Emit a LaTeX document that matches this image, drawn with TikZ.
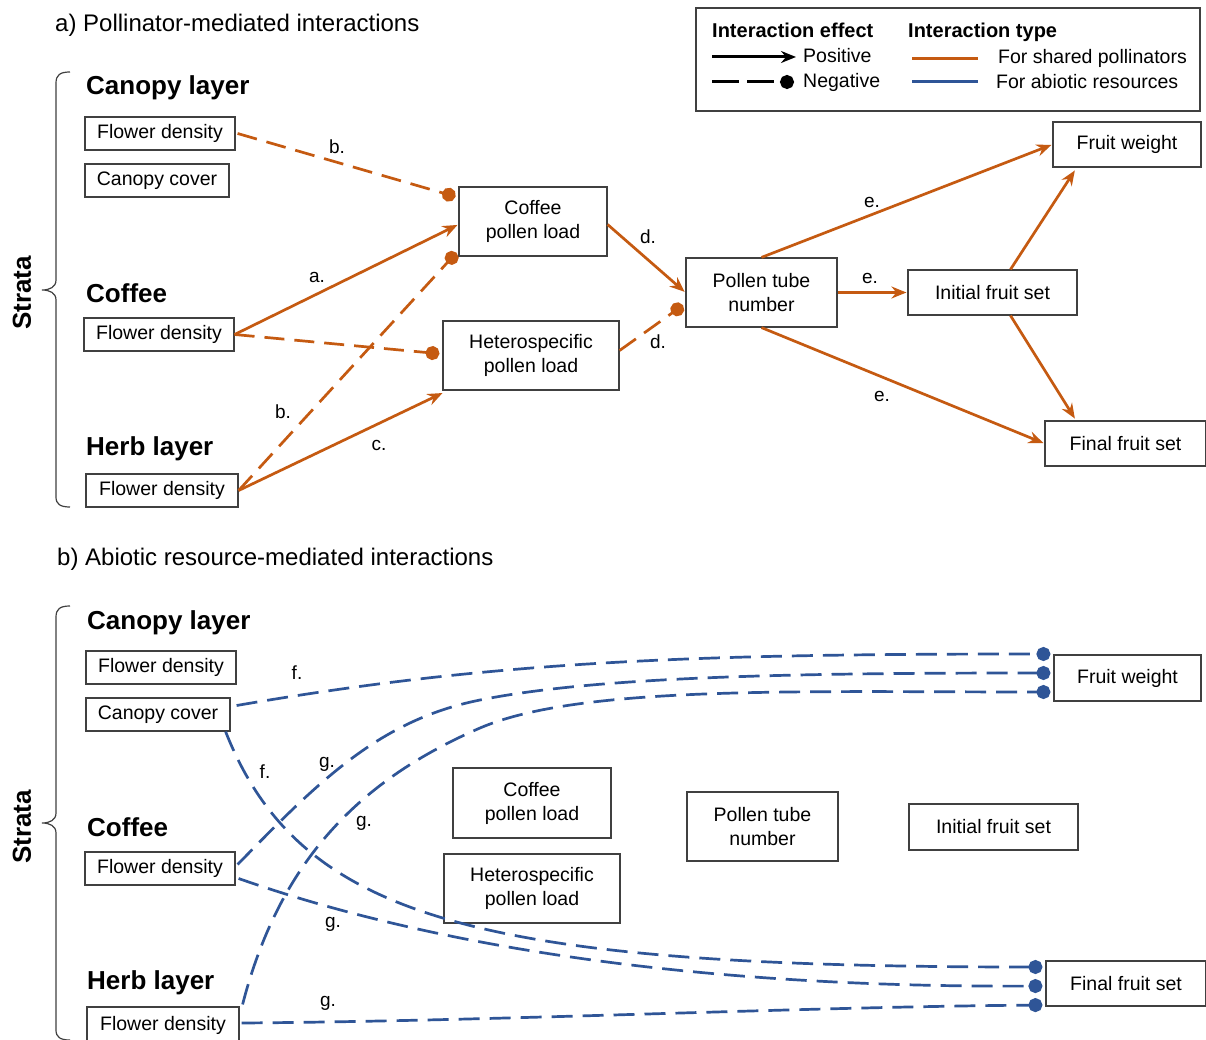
\documentclass[tikz,border=0pt]{standalone}
\usepackage{fontspec}
\setmainfont{Liberation Sans}
\usetikzlibrary{arrows.meta,calc}
\definecolor{porange}{RGB}{197,90,17}
\definecolor{pblue}{RGB}{47,85,151}
\definecolor{boxgray}{RGB}{64,64,64}
\tikzset{
  box/.style={draw=boxgray, line width=1.2pt, inner sep=0pt, align=center, fill=white,
    font=\fontsize{19.5}{24}\selectfont},
  lay/.style={anchor=base west, inner sep=0pt, font=\bfseries\fontsize{26}{30}\selectfont},
  ttl/.style={anchor=base west, inner sep=0pt, font=\fontsize{24}{28}\selectfont},
  strata/.style={inner sep=0pt, rotate=90, font=\bfseries\fontsize{26}{30}\selectfont},
  lbl/.style={inner sep=0pt, font=\fontsize{19}{22}\selectfont},
  legh/.style={anchor=base west, inner sep=0pt, font=\bfseries\fontsize{20}{24}\selectfont},
  legt/.style={anchor=base west, inner sep=0pt, font=\fontsize{19.5}{24}\selectfont},
  bracestyle/.style={draw=boxgray, line width=1.2pt},
  postip/.style={-{Stealth[length=15pt,width=12pt,inset=5pt]}},
  negtip/.style={-{Circle[length=14pt]}},
  opos/.style={draw=porange, line width=2.7pt, postip, shorten >=1pt},
  oneg/.style={draw=porange, line width=2.7pt, dash pattern=on 20pt off 10pt, negtip, shorten >=3pt},
  bneg/.style={draw=pblue, line width=2.7pt, dash pattern=on 21pt off 10pt, negtip, shorten >=3pt},
}
\begin{document}
\begin{tikzpicture}[x=1pt,y=-1pt]
\useasboundingbox[fill=white] (0,0) rectangle (1206,1040);

% ---------------- Legend ----------------
\node[draw=boxgray, line width=1.2pt, minimum width=504pt, minimum height=103pt, inner sep=0pt] (leg) at (948,59.5) {};
\node[legh] (le) at (712,38) {Interaction effect};
\node[legt] (lpos) at (803,63) {Positive};
\node[legt] (lneg) at (803,88) {Negative};
\node[legh] (lt) at (908,38) {Interaction type};
\node[legt] (lsp) at (998,64) {For shared pollinators};
\node[legt] (lar) at (996,89) {For abiotic resources};
\coordinate (p1) at (712,57); \coordinate (p2) at (796,57);
\coordinate (n1) at (712,82); \coordinate (n2) at (794,82);
\coordinate (o1) at (912,59); \coordinate (o2) at (978,59);
\coordinate (b1) at (912,82); \coordinate (b2) at (978,82);
\draw[line width=3pt, postip] (p1) -- (p2);
\draw[line width=3pt, dash pattern=on 27pt off 8pt, negtip] (n1) -- (n2);
\draw[porange, line width=3pt] (o1) -- (o2);
\draw[pblue, line width=3pt] (b1) -- (b2);

% ---------------- Panel a ----------------
\node[ttl] (ta) at (55,32) {a) Pollinator-mediated interactions};
\node[strata] (sa) at (22,293) {Strata};
\draw[bracestyle] (70,72) .. controls (60,72) and (56,75) .. (56,83) -- (56,280)
  .. controls (56,287) and (50,290) .. (42,290) .. controls (50,290) and (56,293) .. (56,300)
  -- (56,497) .. controls (56,504) and (60,507) .. (70,507);
\node[lay] (cla) at (86,95) {Canopy layer};
\node[lay] (coa) at (86,302) {Coffee};
\node[lay] (hla) at (86,455) {Herb layer};

\node[box, minimum width=150pt, minimum height=33pt] (fdA1) at (160,133.5) {Flower density};
\node[box, minimum width=144pt, minimum height=33pt] (ccA) at (157,180.5) {Canopy cover};
\node[box, minimum width=150pt, minimum height=33pt] (fdA2) at (159,334.5) {Flower density};
\node[box, minimum width=152pt, minimum height=33pt] (fdA3) at (162,490.5) {Flower density};
\node[box, minimum width=148pt, minimum height=69pt] (cplA) at (533,221.5) {Coffee\\pollen load};
\node[box, minimum width=176pt, minimum height=69pt] (hplA) at (531,355.5) {Heterospecific\\pollen load};
\node[box, minimum width=151pt, minimum height=69pt] (ptnA) at (761.5,292.5) {Pollen tube\\number};
\node[box, minimum width=169pt, minimum height=45pt] (ifsA) at (992.5,292.5) {Initial fruit set};
\node[box, minimum width=148pt, minimum height=45pt] (fwA) at (1127,144.5) {Fruit weight};
\node[box, minimum width=161pt, minimum height=45pt] (ffsA) at (1125.5,443.5) {Final fruit set};

\draw[oneg] ($(fdA1.east)+(2,0)$) -- ($(cplA.west)+(0,-24)$);
\draw[opos] (fdA2.east) -- ($(cplA.west)+(0,3)$);
\draw[oneg] (fdA2.east) -- ($(hplA.west)+(0,-1.5)$);
\draw[oneg] (fdA3.east) -- ($(cplA.west)+(0,29)$);
\draw[opos] (fdA3.east) -- ($(hplA.south west)+(1,2)$);
\draw[opos] ($(cplA.east)+(0,3)$) -- (ptnA.west);
\draw[oneg] ($(hplA.east)+(0,-5)$) -- ($(ptnA.west)+(0,11)$);
\draw[opos] (ptnA.north) -- (fwA.west);
\draw[opos] (ptnA.east) -- (ifsA.west);
\draw[opos] (ptnA.south) -- (ffsA.west);
\draw[opos] ($(ifsA.north)+(18,0)$) -- ($(fwA.south west)+(23,2)$);
\draw[opos] ($(ifsA.south)+(18,0)$) -- ($(ffsA.north west)+(31,-1)$);

\node[lbl] (lb1) at (337,147) {b.};
\node[lbl] (la1) at (317,277) {a.};
\node[lbl] (lb2) at (283,412) {b.};
\node[lbl] (lc1) at (379,445) {c.};
\node[lbl] (ld1) at (648,237) {d.};
\node[lbl] (ld2) at (658,342) {d.};
\node[lbl] (le1) at (872,202) {e.};
\node[lbl] (le2) at (870,278) {e.};
\node[lbl] (le3) at (882,396) {e.};

% ---------------- Panel b ----------------
\node[ttl] (tb) at (57,565) {b) Abiotic resource-mediated interactions};
\node[strata] (sb) at (22,827) {Strata};
\draw[bracestyle] (70,606) .. controls (60,606) and (56,609) .. (56,617) -- (56,813)
  .. controls (56,820) and (50,823) .. (42,823) .. controls (50,823) and (56,826) .. (56,833)
  -- (56,1030) .. controls (56,1037) and (60,1040) .. (70,1040);
\node[lay] (clb) at (87,629) {Canopy layer};
\node[lay] (cob) at (87,836) {Coffee};
\node[lay] (hlb) at (87,989) {Herb layer};

\node[box, minimum width=150pt, minimum height=33pt] (fdB1) at (161,667.5) {Flower density};
\node[box, minimum width=144pt, minimum height=33pt] (ccB) at (158,714.5) {Canopy cover};
\node[box, minimum width=150pt, minimum height=33pt] (fdB2) at (160,868.5) {Flower density};
\node[box, minimum width=152pt, minimum height=36pt] (fdB3) at (163,1025) {Flower density};
\node[box, minimum width=158pt, minimum height=70pt] (cplB) at (532,803) {Coffee\\pollen load};
\node[box, minimum width=176pt, minimum height=69pt] (hplB) at (532,888.5) {Heterospecific\\pollen load};
\node[box, minimum width=151pt, minimum height=69pt] (ptnB) at (762.5,826.5) {Pollen tube\\number};
\node[box, minimum width=169pt, minimum height=46pt] (ifsB) at (993.5,827) {Initial fruit set};
\node[box, minimum width=147pt, minimum height=46pt] (fwB) at (1127.5,678) {Fruit weight};
\node[box, minimum width=160pt, minimum height=45pt] (ffsB) at (1126,983.5) {Final fruit set};

% f: canopy cover -> fruit weight (top)
\draw[bneg] ($(ccB.east)+(6,-9)$) .. controls (500,660) and (700,654) .. ($(fwB.west)+(0,-24)$);
% f: canopy cover -> final fruit set (top)
\draw[bneg] ($(ccB.south east)+(-5,0)$) .. controls (300,920) and (480,967) .. ($(ffsB.west)+(0,-16.5)$);
% g: coffee -> fruit weight (middle)
\draw[bneg] ($(fdB2.east)+(2,-4)$) .. controls (320,780) and (380,720) .. (480,700)
  .. controls (600,676) and (800,673) .. ($(fwB.west)+(0,-5)$);
% g: herb -> fruit weight (bottom)
\draw[bneg] ($(fdB3.north east)+(3,-2)$) .. controls (280,860) and (360,780) .. (480,728)
  .. controls (580,685) and (800,692) .. ($(fwB.west)+(0,14)$);
% g: coffee -> final fruit set (middle)
\draw[bneg] ($(fdB2.east)+(3,10)$) .. controls (400,935) and (650,988) .. ($(ffsB.west)+(0,2.5)$);
% g: herb -> final fruit set (bottom)
\draw[bneg] ($(fdB3.east)+(2,-2)$) .. controls (500,1021) and (800,1007) .. ($(ffsB.west)+(0,21.5)$);

\node[lbl] (lf1) at (297,673) {f.};
\node[lbl] (lf2) at (265,772) {f.};
\node[lbl] (lg1) at (327,764) {g.};
\node[lbl] (lg2) at (364,823) {g.};
\node[lbl] (lg3) at (333,924) {g.};
\node[lbl] (lg4) at (328,1003) {g.};
\end{tikzpicture}
\end{document}
